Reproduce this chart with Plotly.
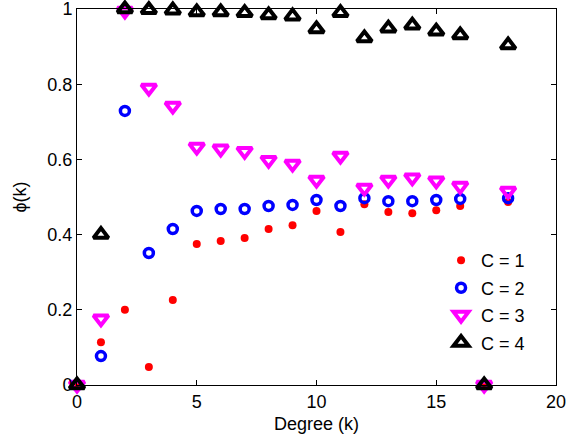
import plotly.graph_objects as go

degree = list(range(19))
phi_c1 = [0, 0.114, 0.200, 0.048, 0.226, 0.375, 0.383, 0.391, 0.415, 0.425, 0.463, 0.407, 0.481, 0.460, 0.457, 0.465, 0.476, 0, 0.487]
phi_c2 = [0, 0.077, 0.729, 0.351, 0.415, 0.463, 0.468, 0.468, 0.476, 0.479, 0.492, 0.476, 0.497, 0.489, 0.489, 0.492, 0.495, 0, 0.497]
phi_c3 = [0, 0.176, 0.995, 0.790, 0.742, 0.633, 0.628, 0.622, 0.598, 0.588, 0.545, 0.609, 0.524, 0.545, 0.551, 0.543, 0.529, 0, 0.516]
phi_c4 = [0, 0.400, 1.000, 0.998, 0.997, 0.992, 0.992, 0.990, 0.984, 0.981, 0.947, 0.990, 0.923, 0.949, 0.957, 0.941, 0.931, 0, 0.904]
names = ["C = 1", "C = 2", "C = 3", "C = 4"]

FONT = "Liberation Sans, Arial"

fig = go.Figure()
fig.add_trace(go.Scatter(x=degree, y=phi_c1, mode="markers", name=names[0], legendgroup="g1",
                         marker=dict(symbol="circle", size=8, color="#ff0000"), cliponaxis=False))
fig.add_trace(go.Scatter(x=degree, y=phi_c2, mode="markers", name=names[1], legendgroup="g2",
                         marker=dict(symbol="circle-open", size=9, color="#0000ff", line=dict(width=3.5, color="#0000ff")), cliponaxis=False))
fig.add_trace(go.Scatter(x=degree, y=phi_c3, mode="markers", name=names[2], legendgroup="g3",
                         marker=dict(symbol="triangle-down-open", size=13, color="#ff00ff", line=dict(width=4, color="#ff00ff")), cliponaxis=False))
fig.add_trace(go.Scatter(x=degree, y=phi_c4, mode="markers", name=names[3], legendgroup="g4",
                         marker=dict(symbol="triangle-up-open", size=13, color="#000000", line=dict(width=4, color="#000000")), cliponaxis=False))

axis_common = dict(showgrid=False, zeroline=False, showline=True, linecolor="black", linewidth=1,
                   mirror="ticks", ticks="inside", ticklen=5, tickcolor="black",
                   ticklabeloverflow="allow", automargin=False,
                   tickfont=dict(family=FONT, size=18, color="black"))
fig.update_xaxes(range=[0, 20], tickvals=[0, 5, 10, 15, 20],
                 title=dict(text="Degree (k)", font=dict(family=FONT, size=18, color="black"), standoff=6),
                 **axis_common)
fig.update_yaxes(range=[0, 1], tickvals=[0, 0.2, 0.4, 0.6, 0.8, 1], ticktext=["0", "0.2", "0.4", "0.6", "0.8", "1"],
                 title=dict(text="ϕ(k)", font=dict(family=FONT, size=18, color="black"), standoff=16),
                 **axis_common)
fig.update_layout(width=580, height=445, margin=dict(l=77, r=24, t=9, b=60),
                  plot_bgcolor="white", paper_bgcolor="white",
                  legend=dict(x=0.76, y=0.38, xanchor="left", yanchor="top", bgcolor="rgba(0,0,0,0)",
                              font=dict(family=FONT, size=18, color="black"),
                              tracegroupgap=1, itemwidth=30))
fig.write_html("out.html", config={"displayModeBar": False},
               post_script="document.body.style.margin='0';")
